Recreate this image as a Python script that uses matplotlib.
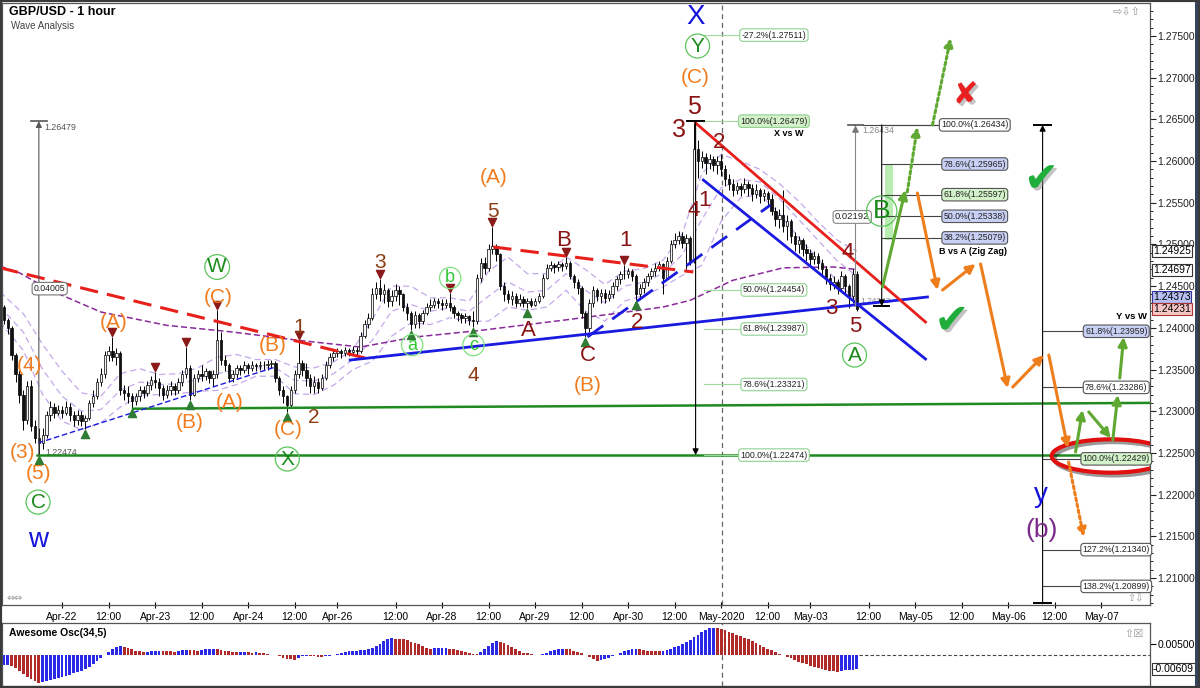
import numpy as np
import matplotlib
matplotlib.use("Agg")
import matplotlib.pyplot as plt
import matplotlib.patheffects as pe
from matplotlib.patches import Ellipse, Rectangle

plt.rcParams['font.family'] = ['Liberation Sans', 'DejaVu Sans']

# ---- price data: hourly bars, x = bar number (0 = Apr-22 00:00, weekend skipped)
first_bar = -15
first_open = 1.2425
closes = [
    1.2410, 1.2400, 1.2368, 1.2345, 1.2320, 1.2290, 1.2330, 1.2282, 1.2268, 1.2262,
    1.2272, 1.2295, 1.2305, 1.2298, 1.2302, 1.2298, 1.2305, 1.2295, 1.2290, 1.2296,
    1.2288, 1.2292, 1.2310, 1.2318, 1.2335, 1.2345, 1.2368, 1.2372, 1.2365, 1.2370,
    1.2325, 1.2322, 1.2318, 1.2312, 1.2318, 1.2325, 1.2322, 1.2332, 1.2338, 1.2335,
    1.2328, 1.2320, 1.2326, 1.2330, 1.2325, 1.2335, 1.2345, 1.2352, 1.2320, 1.2340,
    1.2345, 1.2342, 1.2348, 1.2340, 1.2345, 1.2385, 1.2362, 1.2355, 1.2340, 1.2345,
    1.2352, 1.2350, 1.2355, 1.2352, 1.2355, 1.2354, 1.2356, 1.2355, 1.2357, 1.2358,
    1.2340, 1.2325, 1.2318, 1.2308, 1.2325, 1.2345, 1.2358, 1.2350, 1.2340, 1.2330,
    1.2335, 1.2328, 1.2340, 1.2355, 1.2365, 1.2370, 1.2372, 1.2370, 1.2373, 1.2371,
    1.2374, 1.2372, 1.2390, 1.2405, 1.2412, 1.2440, 1.2448, 1.2440, 1.2445, 1.2432,
    1.2438, 1.2445, 1.2440, 1.2425, 1.2418, 1.2405, 1.2415, 1.2408, 1.2418, 1.2425,
    1.2428, 1.2432, 1.2430, 1.2428, 1.2430, 1.2425, 1.2418, 1.2415, 1.2412, 1.2414,
    1.2410, 1.2408, 1.2460, 1.2478, 1.2472, 1.2495, 1.2498, 1.2488, 1.2450, 1.2440,
    1.2435, 1.2438, 1.2430, 1.2435, 1.2430, 1.2432, 1.2428, 1.2432, 1.2438, 1.2460,
    1.2472, 1.2475, 1.2473, 1.2476, 1.2474, 1.2478, 1.2462, 1.2455, 1.2448, 1.2418,
    1.2400, 1.2430, 1.2445, 1.2438, 1.2442, 1.2436, 1.2440, 1.2450, 1.2458, 1.2465,
    1.2464, 1.2468, 1.2462, 1.2440, 1.2448, 1.2455, 1.2462, 1.2468, 1.2472, 1.2476,
    1.2460, 1.2480, 1.2500, 1.2505, 1.2510, 1.2502, 1.2508, 1.2480, 1.2615, 1.2600,
    1.2605, 1.2598, 1.2602, 1.2595, 1.2600, 1.2590, 1.2578, 1.2572, 1.2565, 1.2570,
    1.2566, 1.2572, 1.2568, 1.2560, 1.2565, 1.2558, 1.2562, 1.2555, 1.2540, 1.2530,
    1.2535, 1.2522, 1.2528, 1.2510, 1.2500, 1.2505, 1.2495, 1.2490, 1.2482, 1.2486,
    1.2478, 1.2470, 1.2460, 1.2452, 1.2455, 1.2448, 1.2462, 1.2450, 1.2438, 1.2465,
    1.2423]
highs = [
    1.2428, 1.2412, 1.2402, 1.2370, 1.2350, 1.2325, 1.2336, 1.2338, 1.2290, 1.2280,
    1.2280, 1.2300, 1.2312, 1.2310, 1.2308, 1.2306, 1.2312, 1.2310, 1.2300, 1.2302,
    1.2300, 1.2296, 1.2314, 1.2325, 1.2340, 1.2352, 1.2372, 1.2378, 1.2389, 1.2376,
    1.2372, 1.2332, 1.2330, 1.2322, 1.2322, 1.2330, 1.2330, 1.2336, 1.2342, 1.2347,
    1.2340, 1.2332, 1.2332, 1.2336, 1.2334, 1.2340, 1.2350, 1.2377, 1.2355, 1.2345,
    1.2350, 1.2355, 1.2352, 1.2350, 1.2350, 1.2421, 1.2395, 1.2368, 1.2358, 1.2350,
    1.2356, 1.2356, 1.2360, 1.2358, 1.2360, 1.2358, 1.2360, 1.2360, 1.2362, 1.2362,
    1.2360, 1.2342, 1.2330, 1.2320, 1.2330, 1.2350, 1.2385, 1.2362, 1.2358, 1.2345,
    1.2342, 1.2340, 1.2345, 1.2360, 1.2370, 1.2374, 1.2376, 1.2375, 1.2377, 1.2376,
    1.2378, 1.2377, 1.2395, 1.2410, 1.2418, 1.2448, 1.2455, 1.2459, 1.2452, 1.2448,
    1.2445, 1.2452, 1.2450, 1.2442, 1.2430, 1.2420, 1.2420, 1.2418, 1.2422, 1.2430,
    1.2434, 1.2436, 1.2436, 1.2434, 1.2435, 1.2442, 1.2428, 1.2420, 1.2418, 1.2418,
    1.2416, 1.2420, 1.2465, 1.2484, 1.2485, 1.2500, 1.2521, 1.2500, 1.2490, 1.2455,
    1.2445, 1.2444, 1.2442, 1.2440, 1.2438, 1.2436, 1.2436, 1.2436, 1.2442, 1.2465,
    1.2476, 1.2480, 1.2478, 1.2480, 1.2479, 1.2485, 1.2480, 1.2465, 1.2458, 1.2450,
    1.2420, 1.2435, 1.2450, 1.2448, 1.2446, 1.2446, 1.2445, 1.2455, 1.2462, 1.2468,
    1.2475, 1.2472, 1.2470, 1.2465, 1.2452, 1.2460, 1.2466, 1.2472, 1.2478, 1.2480,
    1.2478, 1.2485, 1.2505, 1.2514, 1.2516, 1.2515, 1.2512, 1.2510, 1.2648, 1.2625,
    1.2612, 1.2610, 1.2608, 1.2606, 1.2606, 1.2608, 1.2595, 1.2585, 1.2578, 1.2575,
    1.2574, 1.2580, 1.2576, 1.2572, 1.2572, 1.2568, 1.2566, 1.2564, 1.2560, 1.2545,
    1.2542, 1.2565, 1.2535, 1.2530, 1.2515, 1.2510, 1.2508, 1.2500, 1.2494, 1.2492,
    1.2490, 1.2482, 1.2474, 1.2464, 1.2462, 1.2458, 1.2468, 1.2465, 1.2452, 1.2470,
    1.2468]
lows = [
    1.2405, 1.2393, 1.2362, 1.2335, 1.2310, 1.2278, 1.2285, 1.2276, 1.2262, 1.2247,
    1.2255, 1.2268, 1.2288, 1.2292, 1.2295, 1.2292, 1.2295, 1.2288, 1.2282, 1.2284,
    1.2282, 1.2279, 1.2290, 1.2305, 1.2315, 1.2330, 1.2340, 1.2360, 1.2360, 1.2355,
    1.2320, 1.2314, 1.2310, 1.2304, 1.2308, 1.2312, 1.2316, 1.2318, 1.2326, 1.2328,
    1.2318, 1.2314, 1.2316, 1.2320, 1.2320, 1.2322, 1.2330, 1.2340, 1.2313, 1.2318,
    1.2335, 1.2336, 1.2338, 1.2334, 1.2330, 1.2340, 1.2355, 1.2348, 1.2335, 1.2335,
    1.2340, 1.2344, 1.2346, 1.2345, 1.2348, 1.2348, 1.2350, 1.2350, 1.2350, 1.2352,
    1.2335, 1.2320, 1.2310, 1.2299, 1.2305, 1.2322, 1.2340, 1.2342, 1.2330, 1.2322,
    1.2322, 1.2322, 1.2325, 1.2338, 1.2352, 1.2360, 1.2365, 1.2364, 1.2366, 1.2366,
    1.2367, 1.2366, 1.2370, 1.2388, 1.2400, 1.2410, 1.2435, 1.2432, 1.2430, 1.2425,
    1.2426, 1.2432, 1.2428, 1.2420, 1.2410, 1.2397, 1.2400, 1.2400, 1.2405, 1.2415,
    1.2420, 1.2424, 1.2424, 1.2422, 1.2424, 1.2420, 1.2412, 1.2408, 1.2406, 1.2406,
    1.2404, 1.2401, 1.2405, 1.2455, 1.2465, 1.2468, 1.2488, 1.2480, 1.2445, 1.2432,
    1.2430, 1.2428, 1.2425, 1.2426, 1.2425, 1.2424, 1.2425, 1.2426, 1.2430, 1.2436,
    1.2458, 1.2468, 1.2466, 1.2468, 1.2468, 1.2470, 1.2458, 1.2448, 1.2440, 1.2412,
    1.2389, 1.2395, 1.2425, 1.2432, 1.2430, 1.2430, 1.2432, 1.2436, 1.2445, 1.2452,
    1.2458, 1.2460, 1.2456, 1.2433, 1.2436, 1.2442, 1.2450, 1.2458, 1.2462, 1.2468,
    1.2440, 1.2458, 1.2478, 1.2496, 1.2500, 1.2496, 1.2470, 1.2475, 1.2478, 1.2580,
    1.2592, 1.2585, 1.2590, 1.2588, 1.2585, 1.2582, 1.2570, 1.2565, 1.2558, 1.2560,
    1.2558, 1.2562, 1.2558, 1.2552, 1.2556, 1.2550, 1.2552, 1.2546, 1.2535, 1.2522,
    1.2520, 1.2515, 1.2505, 1.2502, 1.2492, 1.2490, 1.2486, 1.2480, 1.2475, 1.2476,
    1.2470, 1.2462, 1.2452, 1.2445, 1.2446, 1.2440, 1.2445, 1.2442, 1.2424, 1.2430,
    1.2420]

# Awesome oscillator, in thousandths
ao_milli = [
    -4.4, -4.2, -4.8, -5.8, -7.0, -8.3, -9.4, -10.4, -11.3, -12.1,
    -11.8, -11.3, -10.9, -10.5, -10.1, -9.6, -9.1, -8.6, -8.0, -7.4,
    -6.8, -6.0, -5.0, -3.8, -2.6, -1.3, 0.2, 1.6, 2.8, 3.7,
    4.1, 3.8, 3.2, 2.6, 2.1, 1.7, 1.5, 1.6, 1.8, 1.9,
    2.0, 1.9, 1.8, 1.7, 1.6, 2.0, 2.3, 2.4, 2.3, 2.2,
    2.1, 2.3, 2.6, 2.8, 2.9, 2.7, 2.5, 2.1, 1.8, 1.6,
    1.4, 1.5, 1.6, 1.4, 1.2, 1.3, 1.1, 0.9, 0.6, 0.3,
    0.0, -0.5, -1.0, -1.5, -1.8, -2.0, -1.2, -0.4, -0.2, -0.3,
    -0.5, -0.6, -0.7, -0.4, -0.1, 0.3, 0.7, 1.2, 1.6, 1.9,
    2.0, 2.1, 2.2, 2.4, 2.8, 3.3, 4.2, 5.2, 6.2, 7.0,
    7.5, 7.4, 7.2, 7.0, 6.6, 6.1, 5.5, 4.8, 4.1, 3.4,
    3.0, 3.05, 3.1, 3.12, 3.15, 2.9, 2.6, 2.2, 1.8, 1.4,
    1.0, 0.7, 0.6, 1.5, 2.8, 4.2, 5.5, 6.3, 6.0, 5.3,
    4.4, 3.5, 2.6, 1.8, 1.2, 0.8, 0.5, 0.3, 0.2, 0.4,
    1.0, 1.8, 2.5, 2.9, 3.0, 2.9, 2.6, 2.1, 1.5, 0.8,
    0.1, -0.8, -1.7, -2.6, -2.2, -1.6, -1.0, -0.4, 0.3, 1.0,
    1.7, 2.3, 2.7, 2.9, 2.6, 2.3, 2.1, 1.9, 1.8, 1.7,
    2.0, 2.4, 2.9, 3.5, 4.2, 5.0, 5.9, 6.9, 8.0, 9.2,
    10.3, 11.2, 11.9, 12.2, 11.9, 11.5, 11.0, 10.4, 9.8, 9.1,
    8.4, 7.7, 7.0, 6.2, 5.4, 4.6, 3.8, 3.0, 2.2, 1.4,
    0.7, 0.0, -0.7, -1.4, -2.1, -2.8, -3.4, -4.0, -4.6, -5.1,
    -5.6, -6.1, -6.5, -6.9, -7.1, -7.2, -6.9, -6.7, -6.5, -6.3,
    -6.09]

time_ticks = [0, 12, 24, 36, 48, 60, 71, 86, 98, 110, 122, 134, 146, 158, 170,
              182, 193, 208, 220, 232, 244, 256, 268]
time_labels = ['Apr-22', '12:00', 'Apr-23', '12:00', 'Apr-24', '12:00', 'Apr-26', '12:00',
               'Apr-28', '12:00', 'Apr-29', '12:00', 'Apr-30', '12:00', 'May-2020',
               '12:00', 'May-03', '12:00', 'May-05', '12:00', 'May-06', '12:00', 'May-07']

# slow moving average (dark purple) read at a few bars
ma_x = [-16, -11, -3, 10, 27, 44, 61, 77, 91, 108, 129, 144, 155, 162, 173, 186, 199, 205]
ma_y = [1.2474, 1.2466, 1.2445, 1.2419, 1.2403, 1.2395, 1.2385, 1.2377, 1.2389, 1.2397,
        1.2409, 1.2418, 1.2425, 1.2433, 1.2457, 1.2472, 1.2473, 1.2470]

# envelope (lavender): middle line and half width
band_x = [-16, -10, -5, 0, 5, 10, 15, 20, 25, 30, 35, 40, 45, 50, 55, 60, 65, 70, 75, 80,
          85, 90, 95, 100, 105, 110, 115, 120, 125, 130, 135, 140, 145, 150, 155, 160,
          165, 170, 175, 180, 185, 190, 195, 200, 205]
band_mid = [1.2425, 1.2395, 1.2350, 1.2318, 1.2300, 1.2302, 1.2325, 1.2335, 1.2332, 1.2333,
            1.2338, 1.2345, 1.2350, 1.2352, 1.2352, 1.2337, 1.2336, 1.2345, 1.2362, 1.2385,
            1.2420, 1.2428, 1.2420, 1.2424, 1.2420, 1.2438, 1.2455, 1.2443, 1.2445, 1.2465,
            1.2445, 1.2430, 1.2450, 1.2455, 1.2465, 1.2488, 1.2530, 1.2568, 1.2578, 1.2575,
            1.2555, 1.2530, 1.2505, 1.2480, 1.2462]
band_half = [0.0018, 0.0022, 0.0030, 0.0030, 0.0022, 0.0016, 0.0020, 0.0016, 0.0012, 0.0012,
             0.0014, 0.0020, 0.0018, 0.0010, 0.0010, 0.0016, 0.0016, 0.0014, 0.0012, 0.0025,
             0.0030, 0.0022, 0.0016, 0.0012, 0.0012, 0.0030, 0.0030, 0.0022, 0.0020, 0.0020,
             0.0025, 0.0022, 0.0018, 0.0016, 0.0016, 0.0025, 0.0055, 0.0040, 0.0022, 0.0015,
             0.0018, 0.0022, 0.0022, 0.0025, 0.0030]

pivot_highs = [13, 24, 32, 40, 61, 82, 100, 111, 130, 145]
pivot_lows = [-6, 6, 18, 33, 58, 90, 106, 120, 135, 148]

xw_levels = [1.27511, 1.26479, 1.24454, 1.23987, 1.23321, 1.22474]
xw_names = ['-27.2%', '100.0%', '50.0%', '61.8%', '78.6%', '100.0%']
ba_levels = [1.26434, 1.25965, 1.25597, 1.25338, 1.25079]
ba_names = ['100.0%', '78.6%', '61.8%', '50.0%', '38.2%']
yw_levels = [1.23959, 1.23286, 1.22429, 1.21340, 1.20899]
yw_names = ['61.8%', '78.6%', '100.0%', '127.2%', '138.2%']

# ---- figure -------------------------------------------------------------
W, H = 1200, 688
fig = plt.figure(figsize=(12, 6.88), dpi=100)
fig.patch.set_facecolor('white')
ax = fig.add_axes([2 / W, 83 / H, 1148 / W, 602 / H])
ax2 = fig.add_axes([2 / W, 2 / H, 1148 / W, 63 / H])
XMIN, XMAX = -15.5, 280.6
ax.set_xlim(XMIN, XMAX)
ax.set_ylim(1.20676, 1.27896)
ax2.set_xlim(XMIN, XMAX)
ax2.set_ylim(-0.01358, 0.01429)

c = np.array(closes)
o = np.array([first_open] + closes[:-1])
x = np.arange(len(c)) + first_bar
hi = np.array(highs)
lo = np.array(lows)

# bands and MA
bm = np.array(band_mid)
bh = np.array(band_half)
for yy in (bm + bh, bm, bm - bh):
    ax.plot(band_x, yy, color='#c4a8ec', lw=0.9, ls=(0, (5, 3)), zorder=2)
ax.plot(ma_x, ma_y, color='#8a2a9a', lw=1.1, ls=(0, (4, 2)), zorder=2)

# candles
up = c >= o
ax.vlines(x, lo, hi, color='black', lw=0.7, zorder=3)
ax.bar(x, np.maximum(np.abs(c - o), 0.00004), bottom=np.minimum(o, c), width=0.62,
       color=np.where(up, '#f4f4f4', '#111111'), edgecolor='black', linewidth=0.5, zorder=4)

# pivot markers
ax.scatter(pivot_highs, hi[np.array(pivot_highs) - first_bar] + 0.0006, marker='v',
           s=34, color='#8b1a1a', zorder=6)
ax.scatter(pivot_lows, lo[np.array(pivot_lows) - first_bar] - 0.0006, marker='^',
           s=34, color='#2e7d32', zorder=6)

# horizontal support lines
ax.plot([18.3, XMAX], [1.2303, 1.2310], color='#1f8a1f', lw=1.8, zorder=5)
ax.plot([-6.5, XMAX], [1.2248, 1.2248], color='#1f8a1f', lw=1.8, zorder=5)

# trend lines
ax.plot([-16, 78.2], [1.2472, 1.23638], color='#e8201c', lw=2.2, ls=(0, (6, 3)), zorder=5)
ax.plot([111.2, 162.8], [1.2497, 1.2467], color='#e8201c', lw=2.2, ls=(0, (6, 3)), zorder=5)
ax.plot([74.3, 223.2], [1.23614, 1.2437], color='#1a1ae0', lw=2.0, zorder=5)
ax.plot([-6.2, 55.0], [1.22619, 1.2353], color='#1a1ae0', lw=1.0, ls=(0, (4, 2)), zorder=5)
ax.plot([135.5, 182.7], [1.2389, 1.25473], color='#1a1ae0', lw=2.0, ls=(0, (7, 4)), zorder=5)
ax.plot([163.4, 222.7], [1.26457, 1.2407], color='#e8201c', lw=2.0, zorder=5)
ax.plot([165.4, 222.7], [1.25773, 1.23626], color='#1a1ae0', lw=2.0, zorder=5)

# vertical dashed day line
for a in (ax, ax2):
    a.axvline(170.3, color='#666666', lw=0.9, ls=(0, (4, 3)), zorder=1)


def box(x0, y0, txt, fc, ec, fs=6.3):
    ax.text(x0, y0, txt, fontsize=fs, ha='center', va='center', color='#222222', zorder=8,
            bbox=dict(boxstyle='round,pad=0.2,rounding_size=0.35', fc=fc, ec=ec, lw=0.8))


GREEN_FC, BLUE_FC = '#d3f2c9', '#c9d0f5'

# left measurement
ax.annotate('', xy=(-6, 1.26479), xytext=(-6, 1.2247),
            arrowprops=dict(arrowstyle='-|>', color='#555555', lw=0.8, mutation_scale=9,
                            shrinkA=0, shrinkB=0), zorder=6)
ax.plot([-8, -4], [1.26479, 1.26479], color='#555555', lw=1.2)
ax.text(-4.6, 1.2640, '1.26479', fontsize=6.3, color='#555555', va='center')
ax.text(-4.4, 1.2250, '1.22474', fontsize=6.3, color='#555555', va='center')
box(-3.2, 1.2447, '0.04005', 'white', '#777777')

# X vs W fibonacci
ax.annotate('', xy=(163.4, 1.22474), xytext=(163.4, 1.26479),
            arrowprops=dict(arrowstyle='-|>', color='black', lw=0.8, mutation_scale=9,
                            shrinkA=0, shrinkB=0), zorder=6)
ax.plot([161.3, 165.5], [1.26479, 1.26479], color='black', lw=1.4, zorder=6)
for lv, nm in zip(xw_levels, xw_names):
    ax.plot([165.5, 175.5], [lv, lv], color='#9ed99e', lw=0.8, zorder=5)
    fc = GREEN_FC if lv == 1.26479 else 'white'
    box(183.6, lv, f'{nm}({lv:.5f})', fc, '#8fd18f')
ax.text(187.5, 1.26325, 'X vs W', fontsize=6.5, fontweight='bold', ha='center', va='center')

# B vs A fibonacci
ax.plot([204.6, 204.6], [1.26434, 1.2426], color='#888888', lw=0.8, zorder=5)
ax.plot([202.6, 206.5], [1.26434, 1.26434], color='#555555', lw=1.2, zorder=5)
ax.scatter([204.6], [1.2638], marker='^', s=14, color='#777777', zorder=6)
ax.text(206.3, 1.2637, '1.26434', fontsize=6.3, color='#888888', va='center')
box(203.8, 1.2533, '0.02192', 'white', '#888888', fs=6.8)
ax.text(206.0, 1.2432, '1.24242', fontsize=6.0, color='#888888', va='center')
ax.add_patch(Rectangle((212.2, 1.2505), 2.0, 0.0092, fc='#b8ecb0', ec='none', zorder=4))
ax.annotate('', xy=(211.4, 1.2426), xytext=(211.4, 1.26434),
            arrowprops=dict(arrowstyle='-|>', color='black', lw=0.8, mutation_scale=9,
                            shrinkA=0, shrinkB=0), zorder=6)
ax.plot([209.4, 213.4], [1.2426, 1.2426], color='black', lw=1.4, zorder=6)
ax.plot([206.5, 227.1], [1.26434, 1.26434], color='#444444', lw=0.8, zorder=5)
ba_fc = ['white', BLUE_FC, GREEN_FC, BLUE_FC, BLUE_FC]
for lv, nm, fc in zip(ba_levels, ba_names, ba_fc):
    ax.plot([211.4, 227.9], [lv, lv], color='#444444', lw=0.8, zorder=5)
    box(235.4, lv, f'{nm}({lv:.5f})', fc, '#555555')
ax.text(235.0, 1.2491, 'B vs A (Zig Zag)', fontsize=6.5, fontweight='bold', ha='center',
        va='center')

# Y vs W fibonacci
ax.annotate('', xy=(252.9, 1.26434), xytext=(252.9, 1.2069),
            arrowprops=dict(arrowstyle='-|>', color='black', lw=0.8, mutation_scale=9,
                            shrinkA=0, shrinkB=0), zorder=6)
ax.plot([250.8, 255.0], [1.26434, 1.26434], color='black', lw=1.4, zorder=6)
ax.plot([250.8, 255.0], [1.2070, 1.2070], color='black', lw=1.4, zorder=6)
yw_fc = [BLUE_FC, 'white', GREEN_FC, 'white', 'white']
for lv, nm, fc in zip(yw_levels, yw_names, yw_fc):
    ax.plot([252.9, 263.5], [lv, lv], color='#444444', lw=0.8, zorder=5)
    box(271.9, lv, f'{nm}({lv:.5f})', fc, '#555555')
ax.text(275.8, 1.2414, 'Y vs W', fontsize=6.8, fontweight='bold', ha='center', va='center')

# red ellipse
ell = Ellipse((270.5, 1.22463), width=30.5, height=0.0040, fill=False, ec='#e01010', lw=3,
              zorder=9)
ell.set_path_effects([pe.SimpleLineShadow(offset=(2, -2), alpha=0.4), pe.Normal()])
ax.add_patch(ell)


def arrow(p0, p1, color, dotted=False):
    ax.annotate('', xy=p1, xytext=p0, zorder=9,
                arrowprops=dict(arrowstyle='-|>', color=color, lw=2.2, mutation_scale=13,
                                shrinkA=0, shrinkB=0,
                                linestyle=(0, (1, 1)) if dotted else '-'))


GRN, ORG = '#5fa832', '#ee7d1c'
arrow((211.6, 1.2449), (217.5, 1.25653), GRN)
arrow((218.0, 1.2563), (220.6, 1.26409), GRN, dotted=True)
arrow((224.5, 1.26433), (229.2, 1.27476), GRN, dotted=True)
arrow((261.4, 1.22511), (263.2, 1.23015), GRN)
arrow((264.8, 1.22991), (270.5, 1.22679), GRN)
arrow((271.0, 1.22655), (272.3, 1.23195), GRN)
arrow((272.8, 1.23398), (273.8, 1.2389), GRN)
arrow((220.6, 1.25617), (225.8, 1.24454), ORG)
arrow((227.1, 1.24454), (235.6, 1.24766), ORG)
arrow((236.9, 1.24766), (243.9, 1.23278), ORG)
arrow((245.2, 1.2329), (253.2, 1.23674), ORG)
arrow((254.5, 1.23674), (259.4, 1.22559), ORG)
arrow((259.6, 1.22391), (263.5, 1.21492), ORG, dotted=True)

# check marks and cross
shadow = [pe.withSimplePatchShadow(offset=(2, -2), shadow_rgbFace='#888888', alpha=0.5)]
for xx, yy in [(229.5, 1.2408), (252.6, 1.2578)]:
    ax.text(xx, yy, '\u2714', fontsize=30, color='#1fae3a', ha='center', va='center',
            family='DejaVu Sans', path_effects=shadow, zorder=9)
ax.text(233.0, 1.2679, '\u2718', fontsize=22, color='#e82020', ha='center', va='center',
        family='DejaVu Sans', path_effects=shadow, zorder=9)

# wave labels
def lab(xx, yy, t, col, fs=15, circ=None):
    kw = {}
    if circ:
        kw['bbox'] = dict(boxstyle='circle,pad=0.12', fc='none', ec=circ, lw=0.9)
    ax.text(xx, yy, t, fontsize=fs, color=col, ha='center', va='center', zorder=10, **kw)


OR, BR, MR = '#f07c1e', '#8b3c12', '#8a1414'
for xx, yy, t in [(-10.3, 1.2251, '(3)'), (-6.2, 1.2225, '(5)'), (-8.3, 1.2355, '(4)'),
                  (13.2, 1.2406, '(A)'), (33.0, 1.2286, '(B)'), (43.1, 1.2311, '(A)'),
                  (40.3, 1.2436, '(C)'), (54.2, 1.2379, '(B)'), (58.3, 1.2278, '(C)'),
                  (111.2, 1.2580, '(A)'), (135.5, 1.2331, '(B)'), (163.4, 1.2700, '(C)')]:
    lab(xx, yy, t, OR)
for xx, yy, t in [(61.2, 1.2401, '1'), (64.8, 1.2292, '2'), (82.1, 1.2478, '3'),
                  (106.1, 1.2343, '4'), (111.2, 1.2539, '5')]:
    lab(xx, yy, t, BR)
for xx, yy, t in [(120.3, 1.2397, 'A'), (129.3, 1.2505, 'B'), (135.5, 1.2367, 'C'),
                  (145.3, 1.2505, '1'), (148.4, 1.2406, '2'), (169.5, 1.2622, '2'),
                  (162.8, 1.2541, '4'), (165.7, 1.2553, '1'), (202.6, 1.2490, '4'),
                  (198.5, 1.2423, '3'), (204.6, 1.2402, '5')]:
    lab(xx, yy, t, MR, fs=16)
lab(163.1, 1.26648, '5', MR, fs=18)
lab(159.0, 1.26373, '3', MR, fs=18)
GC = '#5cc45c'
for xx, yy, t in [(-6.2, 1.2191, 'C'), (40.0, 1.2473, 'W'), (58.1, 1.22427, 'X'),
                  (163.9, 1.2738, 'Y'), (204.4, 1.23674, 'A')]:
    lab(xx, yy, t, '#1b8a1b', fs=15, circ=GC)
lab(211.4, 1.2540, 'B', '#1b8a1b', fs=19, circ=GC)
for xx, yy, t in [(90.3, 1.23794, 'a'), (100.1, 1.24598, 'b'), (106.1, 1.23794, 'c')]:
    lab(xx, yy, t, '#33c833', fs=13, circ='#7fe07f')
lab(163.4, 1.27728, 'X', '#1414dd', fs=20)
lab(-6.2, 1.2146, 'w', '#1414dd', fs=20)
lab(252.4, 1.2200, 'y', '#1414dd', fs=20)
lab(252.6, 1.2158, '(b)', '#7b2a8b', fs=19)

# titles
ax.text(0.006, 0.985, 'GBP/USD - 1 hour', transform=ax.transAxes, fontsize=9,
        fontweight='bold', va='center')
ax.text(0.008, 0.962, 'Wave Analysis', transform=ax.transAxes, fontsize=7, color='#444444',
        va='center')
ax.text(0.992, 0.985, '\u21e8\u21e9\u21e7', transform=ax.transAxes, fontsize=8,
        color='#999999', ha='right', va='center', family='DejaVu Sans')
ax.text(0.004, 0.004, '\u21d4\u21d4', transform=ax.transAxes, fontsize=7, color='#999999',
        va='bottom', family='DejaVu Sans')
ax.text(0.994, 0.002, '\u21e7\u21e9', transform=ax.transAxes, fontsize=7, color='#999999',
        ha='right', va='bottom', family='DejaVu Sans')

# axes styling
ax.yaxis.tick_right()
ax.set_yticks(np.arange(1.210, 1.2751, 0.005))
ax.set_yticks(np.arange(1.207, 1.2785, 0.001), minor=True)
ax.yaxis.set_major_formatter(plt.FuncFormatter(lambda v, p: f'{v:.5f}'))
ax.tick_params(axis='y', which='major', length=4, labelsize=7.5, pad=1.5, colors='#222222')
ax.tick_params(axis='y', which='minor', length=2)
ax.set_xticks(time_ticks)
ax.set_xticklabels(time_labels)
ax.tick_params(axis='x', length=4, direction='inout', labelsize=7.5, pad=3)
for a in (ax, ax2):
    for s in a.spines.values():
        s.set_color('#555555')
        s.set_linewidth(0.9)

# right-axis value tags
for val, fc, ec in [(1.24925, 'white', '#333333'), (1.24697, 'white', '#333333'),
                    (1.24373, '#b8bff2', '#333399'), (1.24231, '#f6c6c6', '#aa3333')]:
    ax.annotate(f'{val:.5f}', xy=(1, val), xycoords=('axes fraction', 'data'),
                xytext=(2, 0), textcoords='offset points', fontsize=7.5, va='center',
                ha='left', annotation_clip=False,
                bbox=dict(boxstyle='square,pad=0.1', fc=fc, ec=ec, lw=0.8), zorder=10)

# awesome oscillator
ao = np.array(ao_milli) / 1000.0
xo = np.arange(len(ao)) + first_bar
ao_col = ['#2a2ae6' if i == 0 or ao[i] >= ao[i - 1] else '#b02a2a' for i in range(len(ao))]
ax2.bar(xo, ao, width=0.72, color=ao_col, linewidth=0, zorder=3)
ax2.plot([xo[-1] + 0.5, XMAX], [0, 0], color='#444444', lw=0.8, ls=(0, (3, 2)))
ax2.yaxis.tick_right()
ax2.set_yticks([0.005])
ax2.set_yticklabels(['0.00500'])
ax2.tick_params(axis='y', length=4, labelsize=7.5, pad=1.5)
ax2.set_xticks([])
ax2.text(0.006, 0.84, 'Awesome Osc(34,5)', transform=ax2.transAxes, fontsize=7.5,
         fontweight='bold', va='center')
ax2.annotate('-0.00609', xy=(1, ao[-1]), xycoords=('axes fraction', 'data'),
             xytext=(2, 0), textcoords='offset points', fontsize=7.5, va='center',
             annotation_clip=False,
             bbox=dict(boxstyle='square,pad=0.1', fc='white', ec='#333333', lw=0.8))
ax2.text(0.994, 0.9, '\u21e7\u2612', transform=ax2.transAxes, fontsize=8, color='#999999',
         ha='right', va='top', family='DejaVu Sans')

# outer frame
fig.add_artist(Rectangle((1195 / W, 0), 5 / W, 1, transform=fig.transFigure,
                         fc='#34445a', ec='none'))
fig.add_artist(Rectangle((0, 0), 1, 1, transform=fig.transFigure, fill=False,
                         ec='#3a3a3a', lw=3))

fig.savefig('out.png', dpi=100)
